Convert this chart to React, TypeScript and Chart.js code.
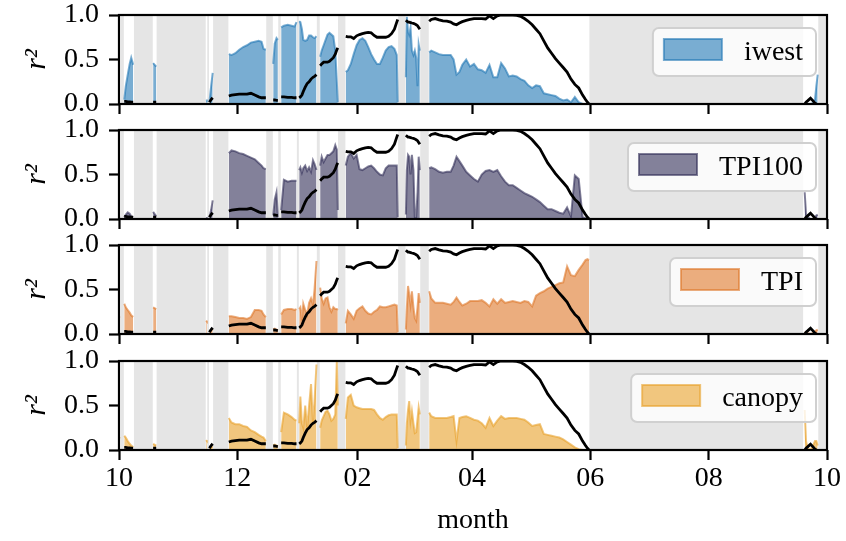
import React, { useEffect, useRef } from "react";
import { Chart, registerables } from "chart.js";

Chart.register(...registerables);

const FONT = "'Liberation Serif', 'Times New Roman', serif";
const N = null;

// x axis: days since 1 October
const tickDays = [0, 61, 123, 182, 243, 304, 365];
const tickLabels = ["10", "12", "02", "04", "06", "08", "10"];
const yTicks = [0, 0.5, 1.0];

// grey bands (no data)
const bandStart = [1.0, 7.7, 19.4, 45.5, 48.5, 75.9, 82.1, 91.7, 102.0, 112.9, 143.9, 155.3, 242.5, 360.5];
const bandEnd = [2.5, 17.4, 44.7, 46.4, 56.4, 79.3, 83.4, 92.7, 103.5, 116.7, 147.7, 159.7, 352.7, 364.3];

// sample days of each data segment
const segmentDays = [
  [0, 0.6],
  [2.7, 3.5, 4.5, 5.5, 6.3, 7.3],
  [17.6, 19.2],
  [44.9, 45.3],
  [46.6, 47.5, 48.3],
  [56.6, 58, 60, 62, 64, 66, 68, 70, 72, 73.5, 74.5, 75.7],
  [79.5, 80.3, 81.2, 81.9],
  [83.6, 85, 87, 89, 90.5, 91.5],
  [92.9, 93.5, 94.3, 95, 96, 97, 98, 99, 100, 100.8, 101.8],
  [103.7, 104.5, 105.5, 106.5, 107.5, 108.5, 109.5, 110.5, 111.5, 112.3, 112.8],
  [116.9, 118, 119.5, 121, 122.5, 124, 125.5, 127, 128.5, 130, 131.5, 133, 134.5, 136, 137.5, 139, 140.5, 142, 143.2, 143.7],
  [147.9, 148.4, 149, 149.6, 150.3, 151, 151.8, 152.5, 153.2, 153.9, 154.5, 155.1],
  [159.9, 161, 163, 165, 167, 169, 171, 172.5, 174, 175.5, 177, 179, 181, 183, 185, 187, 189, 191, 193, 195, 197, 199, 201, 203, 205, 207, 209, 211, 213, 215, 217, 219, 221, 223, 225, 227, 229, 231, 233, 235, 237, 239, 240.5, 241.5, 242.3],
  [353.5, 354.2, 355, 356.5, 357.8, 358.8, 359.5, 360.2],
];

// black reference curve (same in every panel)
const lineR2 = [
  [N, N],
  [0.03, 0.03, 0.025, 0.025, 0.02, 0.02],
  [0.02, 0.02],
  [N, N],
  [0.02, 0.05, 0.07],
  [0.09, 0.1, 0.105, 0.11, 0.11, 0.11, 0.12, 0.1, 0.08, 0.07, 0.07, 0.07],
  [0.045, 0.045, 0.04, 0.04],
  [0.08, 0.08, 0.075, 0.075, 0.07, 0.07],
  [0.07, 0.08, 0.1, 0.14, 0.19, 0.23, 0.25, 0.28, 0.3, 0.31, 0.33],
  [0.43, 0.45, 0.47, 0.47, 0.47, 0.48, 0.5, 0.52, 0.56, 0.61, 0.63],
  [0.76, 0.755, 0.755, 0.736, 0.766, 0.78, 0.79, 0.8, 0.805, 0.8, 0.77, 0.75, 0.75, 0.75, 0.75, 0.76, 0.79, 0.84, 0.92, 0.95],
  [0.94, 0.93, 0.92, 0.92, 0.915, 0.91, 0.905, 0.9, 0.89, 0.88, 0.86, 0.84],
  [0.93, 0.95, 0.96, 0.945, 0.935, 0.93, 0.92, 0.9, 0.89, 0.91, 0.925, 0.94, 0.95, 0.96, 0.96, 0.96, 0.955, 0.99, 0.96, 0.99, 1.0, 1.0, 1.0, 1.0, 0.995, 0.985, 0.96, 0.93, 0.89, 0.84, 0.79, 0.71, 0.63, 0.57, 0.51, 0.46, 0.41, 0.36, 0.28, 0.22, 0.18, 0.1, 0.05, 0.02, 0.0],
  [0, 0.02, 0.035, 0.065, 0.035, 0.01, 0, N],
];

const iwestR2 = [
  [N, N],
  [0.05, 0.2, 0.33, 0.45, 0.52, 0.44],
  [0.46, 0.42],
  [0.03, 0.05],
  [0.02, 0.2, 0.35],
  [0.56, 0.55, 0.57, 0.61, 0.64, 0.66, 0.69, 0.7, 0.71, 0.7, 0.62, 0.61],
  [0.45, 0.68, 0.74, 0.72],
  [0.86, 0.88, 0.89, 0.88, 0.87, 0.92],
  [0.93, 0.92, 0.84, 0.72, 0.71, 0.72, 0.77, 0.77, 0.75, 0.74, 0.76],
  [0.53, 0.6, 0.66, 0.72, 0.78, 0.8, 0.78, 0.76, 0.6, 0.25, 0.02],
  [0.36, 0.38, 0.45, 0.56, 0.66, 0.72, 0.74, 0.71, 0.64, 0.56, 0.5, 0.45, 0.45, 0.52, 0.6, 0.64, 0.65, 0.62, 0.55, 0.02],
  [0.3, 0.98, 0.82, 0.78, 0.86, 0.6, 0.55, 0.6, 0.52, 0.2, 0.67, 0.6],
  [0.58, 0.6, 0.58, 0.56, 0.55, 0.55, 0.55, 0.5, 0.33, 0.36, 0.44, 0.5, 0.42, 0.45, 0.39, 0.38, 0.35, 0.44, 0.3, 0.3, 0.46, 0.4, 0.31, 0.32, 0.31, 0.28, 0.26, 0.21, 0.18, 0.21, 0.2, 0.12, 0.11, 0.1, 0.09, 0.06, 0.04, 0.05, 0.02, 0.08, 0.02, 0, 0, 0, 0],
  [0, 0, 0, 0, 0.01, 0.05, 0.2, 0.33],
];

const tpi100R2 = [
  [0.02, 0.02],
  [0.02, 0.05, 0.075, 0.06, 0.03, 0.02],
  [0.08, 0.03],
  [0.01, 0.02],
  [0.02, 0.1, 0.21],
  [0.74, 0.77, 0.76, 0.74, 0.73, 0.71, 0.69, 0.67, 0.63, 0.6, 0.57, 0.56],
  [0.04, 0.22, 0.3, 0.02],
  [0.1, 0.44, 0.42, 0.43, 0.43, 0.43],
  [0.55, 0.58, 0.52, 0.57, 0.6, 0.54, 0.58, 0.53, 0.66, 0.62, 0.55],
  [0.6, 0.7, 0.64, 0.68, 0.72, 0.72, 0.74, 0.76, 0.83, 0.78, 0.1],
  [0.6, 0.7, 0.74, 0.68, 0.72, 0.56, 0.55, 0.57, 0.59, 0.6, 0.57, 0.53, 0.5, 0.49, 0.57, 0.6, 0.6, 0.6, 0.6, 0.02],
  [0.05, 0.55, 0.72, 0.7, 0.5, 0.72, 0.55, 0.02, 0.02, 0.3, 0.7, 0.55],
  [0.57, 0.58, 0.56, 0.53, 0.52, 0.53, 0.53, 0.6, 0.7, 0.65, 0.6, 0.53, 0.49, 0.45, 0.42, 0.5, 0.54, 0.55, 0.53, 0.55, 0.48, 0.42, 0.38, 0.38, 0.35, 0.32, 0.29, 0.27, 0.25, 0.22, 0.19, 0.15, 0.11, 0.11, 0.09, 0.07, 0.06, 0.13, 0.03, 0.49, 0.45, 0.02, 0.01, 0, 0],
  [0.3, 0.05, 0.02, 0, 0, 0.02, 0.04, 0.05],
];

const tpiR2 = [
  [0.19, 0.19],
  [0.34, 0.3, 0.27, 0.24, 0.21, 0.19],
  [0.3, 0.28],
  [0.15, 0.14],
  [0.02, 0.04, 0.06],
  [0.2, 0.2, 0.19, 0.18, 0.18, 0.17, 0.19, 0.27, 0.27, 0.26, 0.22, 0.19],
  [0.05, 0.06, 0.05, 0.04],
  [0.22, 0.27, 0.28, 0.28, 0.27, 0.28],
  [0.28, 0.3, 0.15, 0.34, 0.27, 0.22, 0.35, 0.4, 0.33, 0.5, 0.82],
  [0.52, 0.4, 0.34, 0.4, 0.41, 0.3, 0.25, 0.3, 0.28, 0.28, 0.27],
  [0.12, 0.26, 0.22, 0.17, 0.26, 0.29, 0.31, 0.26, 0.23, 0.22, 0.25, 0.27, 0.31, 0.3, 0.3, 0.31, 0.32, 0.33, 0.32, 0.02],
  [0.05, 0.3, 0.54, 0.45, 0.33, 0.48, 0.3, 0.18, 0.15, 0.3, 0.46, 0.35],
  [0.48, 0.4, 0.35, 0.35, 0.35, 0.34, 0.33, 0.36, 0.41, 0.36, 0.32, 0.34, 0.37, 0.37, 0.37, 0.38, 0.35, 0.31, 0.39, 0.34, 0.39, 0.35, 0.36, 0.37, 0.36, 0.35, 0.37, 0.36, 0.31, 0.43, 0.46, 0.48, 0.51, 0.53, 0.55, 0.57, 0.58, 0.76, 0.66, 0.65, 0.72, 0.78, 0.83, 0.84, 0.83],
  [0.02, 0.02, 0.01, 0, 0.01, 0.03, 0.04, 0.05],
];

const canopyR2 = [
  [0.14, 0.13],
  [0.16, 0.14, 0.1, 0.07, 0.05, 0.03],
  [0.07, 0.05],
  [0.11, 0.1],
  [0.02, 0.03, 0.04],
  [0.36, 0.31, 0.29, 0.29, 0.27, 0.26, 0.22, 0.2, 0.17, 0.15, 0.14, 0.1],
  [0.05, 0.06, 0.05, 0.04],
  [0.2, 0.42, 0.4, 0.37, 0.34, 0.33],
  [0.3, 0.6, 0.3, 0.25, 0.5, 0.25, 0.5, 0.74, 0.3, 0.55, 0.96],
  [0.25, 0.33, 0.38, 0.43, 0.44, 0.4, 0.33, 0.35, 0.4, 1.0, 0.5],
  [0.35, 0.59, 0.62, 0.5, 0.48, 0.47, 0.46, 0.46, 0.46, 0.46, 0.45, 0.4, 0.36, 0.34, 0.37, 0.39, 0.4, 0.4, 0.4, 0.02],
  [0.05, 0.3, 0.45, 0.55, 0.33, 0.44, 0.3, 0.19, 0.2, 0.35, 0.48, 0.4],
  [0.42, 0.38, 0.36, 0.36, 0.36, 0.36, 0.37, 0.38, 0.1, 0.36, 0.37, 0.38, 0.36, 0.34, 0.33, 0.3, 0.25, 0.36, 0.27, 0.33, 0.38, 0.35, 0.36, 0.36, 0.36, 0.35, 0.34, 0.31, 0.27, 0.28, 0.29, 0.18, 0.17, 0.16, 0.15, 0.14, 0.12, 0.09, 0.06, 0.03, 0.01, 0, 0, 0, 0],
  [0.45, 0.1, 0.02, 0, 0.05, 0.1, 0.1, 0.05],
];

const seriesNames = ["iwest", "TPI100", "TPI", "canopy"];
const seriesValues = [iwestR2, tpi100R2, tpiR2, canopyR2];
const fillColors = ["rgba(31,119,180,0.6)", "rgba(48,45,86,0.6)", "rgba(221,119,40,0.6)", "rgba(232,160,40,0.6)"];
const edgeColors = ["rgba(31,119,180,0.6)", "rgba(48,45,86,0.6)", "rgba(221,119,40,0.6)", "rgba(232,160,40,0.6)"];

// layout
const PANEL_TOPS = [15, 130, 245, 361];
const PLOT_H = 89;
const PAD_TOP = 15;
const PLOT_LEFT = 119;
const PLOT_RIGHT = 827;
const W = 846;

function toPoints(values: (number | null)[][]) {
  const pts: { x: number; y: number | null }[] = [];
  segmentDays.forEach((days, s) => {
    days.forEach((d, j) => pts.push({ x: d, y: values[s][j] }));
    if (s < segmentDays.length - 1) {
      pts.push({ x: (days[days.length - 1] + segmentDays[s + 1][0]) / 2, y: null });
    }
  });
  return pts;
}

function zeroPad(s: any) {
  s.paddingTop = 0;
  s.paddingBottom = 0;
  s.paddingLeft = 0;
  s.paddingRight = 0;
}

const bandsPlugin = {
  id: "gapBands",
  beforeDatasetsDraw(chart: any) {
    const { ctx, chartArea: a } = chart;
    const x = chart.scales.x;
    ctx.save();
    ctx.fillStyle = "#e5e5e5";
    bandStart.forEach((s, i) => {
      const x1 = Math.max(a.left, x.getPixelForValue(s));
      const x2 = Math.min(a.right, x.getPixelForValue(bandEnd[i]));
      if (x2 > x1) ctx.fillRect(x1, a.top, x2 - x1, a.bottom - a.top);
    });
    ctx.restore();
  },
};

const framePlugin = {
  id: "frameAndLegend",
  afterDraw(chart: any, _args: any, opts: any) {
    const { ctx, chartArea: a } = chart;
    ctx.save();
    ctx.strokeStyle = "#000";
    ctx.lineWidth = 2.2;
    ctx.strokeRect(a.left, a.top, a.right - a.left, a.bottom - a.top);

    // legend box
    const fs = 28;
    ctx.font = `${fs}px ${FONT}`;
    const tw = ctx.measureText(opts.label).width;
    const w = 11 + 58 + 22 + tw + 13;
    const h = 48;
    const x0 = a.right - 11 - w;
    const y0 = a.top + 13;
    ctx.beginPath();
    ctx.roundRect(x0, y0, w, h, 6);
    ctx.fillStyle = "rgba(255,255,255,0.8)";
    ctx.fill();
    ctx.lineWidth = 2;
    ctx.strokeStyle = "#d0d0d0";
    ctx.stroke();
    ctx.fillStyle = "#fff";
    ctx.fillRect(x0 + 11, y0 + 11, 58, 21);
    ctx.fillStyle = opts.fill;
    ctx.fillRect(x0 + 11, y0 + 11, 58, 21);
    ctx.strokeStyle = opts.edge;
    ctx.lineWidth = 2;
    ctx.strokeRect(x0 + 11, y0 + 11, 58, 21);
    ctx.fillStyle = "#000";
    ctx.textBaseline = "alphabetic";
    ctx.textAlign = "left";
    ctx.fillText(opts.label, x0 + 11 + 58 + 22, y0 + 32);
    ctx.restore();
  },
};

function makeConfig(i: number): any {
  const isLast = i === 3;
  const bottomExtra = isLast ? 541 - (PANEL_TOPS[3] + PLOT_H) : 12;
  const tickFont = { family: FONT, size: 28 };
  const grid = {
    display: true,
    drawOnChartArea: false,
    drawTicks: true,
    tickLength: 10,
    tickWidth: 2.2,
    tickColor: "#000",
  };
  return {
    type: "line",
    data: {
      datasets: [
        {
          label: "reference",
          data: toPoints(lineR2),
          borderColor: "#000",
          borderWidth: 2.8,
          pointRadius: 0,
          fill: false,
          order: 0,
        },
        {
          label: seriesNames[i],
          data: toPoints(seriesValues[i]),
          borderColor: edgeColors[i],
          backgroundColor: fillColors[i],
          borderWidth: 2,
          pointRadius: 0,
          fill: "origin",
          order: 1,
        },
      ],
    },
    options: {
      responsive: false,
      animation: false,
      events: [],
      layout: { padding: { top: PAD_TOP, right: W - PLOT_RIGHT, left: 0, bottom: 0 } },
      plugins: {
        legend: { display: false },
        tooltip: { enabled: false },
        frameAndLegend: { label: seriesNames[i], fill: fillColors[i], edge: edgeColors[i] },
      },
      scales: {
        x: {
          type: "linear",
          min: 0,
          max: 365,
          afterBuildTicks: (s: any) => {
            s.ticks = tickDays.map((v) => ({ value: v }));
          },
          afterFit: (s: any) => {
            s.height = bottomExtra;
            zeroPad(s);
          },
          grid,
          border: { display: false },
          ticks: {
            display: isLast,
            font: tickFont,
            color: "#000",
            padding: 2,
            maxRotation: 0,
            autoSkip: false,
            callback: (v: number) => tickLabels[tickDays.indexOf(v)],
          },
          title: {
            display: isLast,
            text: "month",
            font: tickFont,
            color: "#000",
            padding: { top: 0, bottom: 4 },
          },
        },
        y: {
          min: 0,
          max: 1,
          afterBuildTicks: (s: any) => {
            s.ticks = yTicks.map((v) => ({ value: v }));
          },
          afterFit: (s: any) => {
            s.width = PLOT_LEFT;
            zeroPad(s);
          },
          grid,
          border: { display: false },
          ticks: {
            font: tickFont,
            color: "#000",
            padding: 10,
            callback: (v: number) => Number(v).toFixed(1),
          },
          title: {
            display: true,
            text: "r²",
            font: { family: FONT, size: 30, style: "italic" },
            color: "#000",
            padding: { top: 19, bottom: 0 },
          },
        },
      },
    },
    plugins: [bandsPlugin, framePlugin],
  };
}

export default function App() {
  const r0 = useRef<HTMLCanvasElement>(null);
  const r1 = useRef<HTMLCanvasElement>(null);
  const r2 = useRef<HTMLCanvasElement>(null);
  const r3 = useRef<HTMLCanvasElement>(null);
  const refs = [r0, r1, r2, r3];

  useEffect(() => {
    const charts = refs.map((r, i) => new Chart(r.current as HTMLCanvasElement, makeConfig(i)));
    return () => charts.forEach((c) => c.destroy());
  }, []);

  return (
    <div style={{ position: "absolute", left: 0, top: 0, width: W, height: 541, background: "#fff" }}>
      {PANEL_TOPS.map((t, i) => {
        const h = PAD_TOP + PLOT_H + (i === 3 ? 541 - (PANEL_TOPS[3] + PLOT_H) : 12);
        return (
          <canvas
            key={i}
            ref={refs[i]}
            width={W}
            height={h}
            style={{ position: "absolute", left: 0, top: t - PAD_TOP, width: W, height: h }}
          />
        );
      })}
    </div>
  );
}
